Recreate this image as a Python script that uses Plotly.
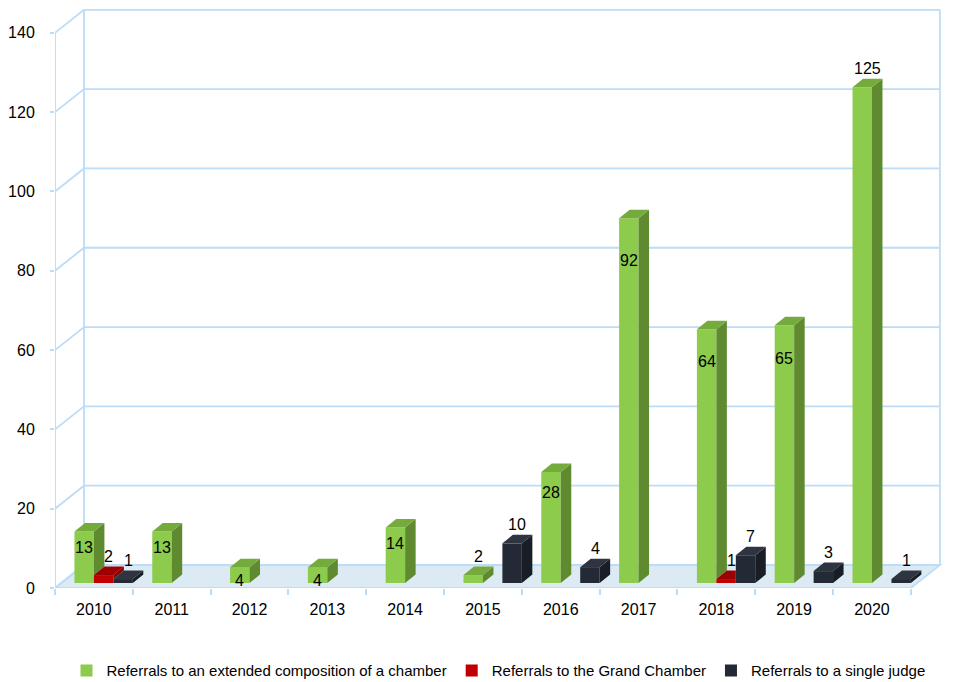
import plotly.graph_objects as go

# ---- data -------------------------------------------------------------
years = ["2010", "2011", "2012", "2013", "2014", "2015",
         "2016", "2017", "2018", "2019", "2020"]
extended_chamber = [13, 13, 4, 4, 14, 2, 28, 92, 64, 65, 125]
grand_chamber = [2, 0, 0, 0, 0, 0, 0, 0, 1, 0, 0]
single_judge = [1, 0, 0, 0, 0, 10, 4, 0, 7, 3, 1]
y_ticks = [0, 20, 40, 60, 80, 100, 120, 140]

series_names = ["Referrals to an extended composition of a chamber",
                "Referrals to the Grand Chamber",
                "Referrals to a single judge"]

# ---- styling / 3-D geometry (axis units) ------------------------------
FRONT = ["#8dcb4c", "#c00000", "#242a35"]
TOP = ["#74ab3c", "#9c0000", "#2e3440"]
SIDE = ["#5f8a30", "#8a0000", "#191d25"]
GRID = "#bcdcf8"
FLOOR = "#dceaf4"
FONT = "Liberation Sans, Arial, sans-serif"

BAR_W = 0.25                 # width of one column (category units)
OFFSETS = [-0.25, 0.0, 0.25]  # left edge of each series inside a category
BASE = 1.26                  # columns stand a little behind the front edge
DDX, DDY = 0.135, 2.14       # column depth projection
WDX, WDY = 0.373, 5.8        # wall depth projection
X_LEFT, X_RIGHT = -0.5, 10.5
Y_TOP = 140
# green labels: inside the column or above it
green_label_inside = [True, True, True, True, True, False,
                      True, True, True, True, False]

series = [extended_chamber, grand_chamber, single_judge]
n = len(years)
xs = list(range(n))

fig = go.Figure()

# ---- walls, floor and gridlines ---------------------------------------
LINE = dict(color=GRID, width=1.8)
shapes = []
shapes.append(dict(type="path", layer="below", line=LINE, fillcolor=FLOOR,
                   path=f"M {X_LEFT},0 L {X_RIGHT},0 L {X_RIGHT+WDX},{WDY} "
                        f"L {X_LEFT+WDX},{WDY} Z"))
for v in y_ticks:
    shapes.append(dict(type="path", layer="below", line=LINE,
                       path=f"M {X_LEFT},{v} L {X_LEFT+WDX},{v+WDY} "
                            f"L {X_RIGHT+WDX},{v+WDY}"))
shapes.append(dict(type="line", layer="below", line=LINE,
                   x0=X_LEFT + WDX, x1=X_LEFT + WDX, y0=WDY, y1=Y_TOP + WDY))
shapes.append(dict(type="line", layer="below", line=LINE,
                   x0=X_RIGHT + WDX, x1=X_RIGHT + WDX, y0=WDY, y1=Y_TOP + WDY))
shapes.append(dict(type="line", layer="below", line=LINE,
                   x0=X_LEFT, x1=X_LEFT, y0=0, y1=Y_TOP))

# ---- front faces of the columns ---------------------------------------
for s, vals in enumerate(series):
    xpos = [i + OFFSETS[s] for i in xs]
    fig.add_trace(go.Bar(
        x=xpos, y=vals, base=[BASE] * n, width=BAR_W, offset=0,
        name=series_names[s], marker=dict(color=FRONT[s], line=dict(width=0)),
        hoverinfo="skip"))

# ---- side and top faces (hidden parts clipped by the next column) -----
for s, vals in enumerate(series):
    sx, sy, tx, ty = [], [], [], []
    for i in xs:
        v = vals[i]
        if v <= 0:
            continue
        x0 = i + OFFSETS[s]
        x1 = x0 + BAR_W
        nxt = series[s + 1][i] if s + 1 < len(series) else 0
        t = BASE + v
        # side face, raised by the height of the column in front of it
        low = BASE + nxt
        if low < t:
            sx += [x1, x1 + DDX, x1 + DDX, x1, x1, None]
            sy += [low, low + DDY, t + DDY, t, low, None]
        # top face
        if nxt >= v + DDY:
            tx += [x0, x1, x1, x0 + DDX, x0, None]
            ty += [t, t, t + DDY, t + DDY, t, None]
        else:
            tx += [x0, x1, x1 + DDX, x0 + DDX, x0, None]
            ty += [t, t, t + DDY, t + DDY, t, None]
    fig.add_trace(go.Scatter(x=sx, y=sy, mode="lines", fill="toself",
                             fillcolor=SIDE[s], line=dict(width=0, color=SIDE[s]),
                             showlegend=False, hoverinfo="skip"))
    fig.add_trace(go.Scatter(x=tx, y=ty, mode="lines", fill="toself",
                             fillcolor=TOP[s], line=dict(width=0, color=TOP[s]),
                             showlegend=False, hoverinfo="skip"))

# ---- value labels ------------------------------------------------------
ann = []
for s, vals in enumerate(series):
    for i in xs:
        v = vals[i]
        if v <= 0:
            continue
        cx = i + OFFSETS[s] + BAR_W / 2
        if s == 0 and green_label_inside[i]:
            ann.append(dict(x=cx, y=BASE + 0.917 * v - 2.93, text=str(v),
                            showarrow=False, yanchor="middle", xanchor="center"))
        else:
            ann.append(dict(x=cx + DDX / 2, y=BASE + v + DDY, text=str(v),
                            showarrow=False, yanchor="bottom", xanchor="center",
                            yshift=0))

fig.update_layout(
    width=954, height=682,
    margin=dict(l=55, r=12, t=9, b=94, autoexpand=False),
    paper_bgcolor="white", plot_bgcolor="white",
    barmode="overlay",
    shapes=shapes,
    annotations=ann,
    font=dict(family=FONT, size=16, color="black"),
    showlegend=True,
    legend=dict(orientation="h", x=0.5, xanchor="center", y=-0.143,
                yanchor="middle", font=dict(size=15, family=FONT),
                itemwidth=30, tracegroupgap=0),
    xaxis=dict(range=[X_LEFT, X_RIGHT + 0.4], tickmode="array", tickvals=xs,
               ticktext=years, ticks="", showgrid=False, zeroline=False,
               showline=False, ticklabelstandoff=10, automargin=False,
               minor=dict(tickmode="array",
                          tickvals=[i - 0.5 for i in range(n + 1)],
                          ticks="outside", ticklen=6, tickcolor=GRID,
                          tickwidth=1.5, showgrid=False),
               fixedrange=True),
    yaxis=dict(range=[0, 146], tickmode="array", tickvals=y_ticks,
               ticks="outside", ticklen=4, tickcolor=GRID, tickwidth=1.5,
               showgrid=False, zeroline=False, showline=False, automargin=False,
               ticklabelstandoff=12, fixedrange=True),
)

fig.write_html("out.html")
